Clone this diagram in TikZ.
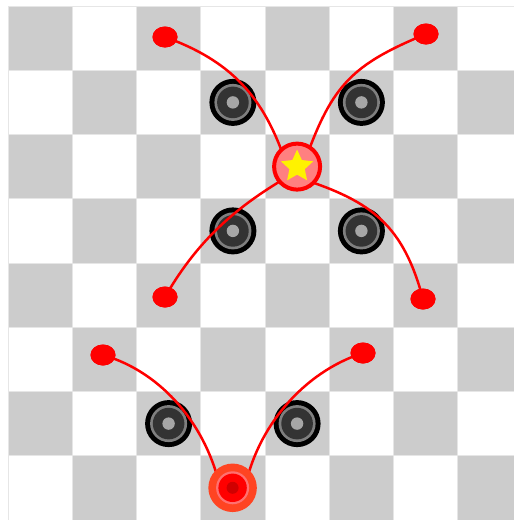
\documentclass[tikz,border=0pt]{standalone}
\usetikzlibrary{shapes.geometric,calc}
\definecolor{sqgray}{HTML}{CCCCCC}
\definecolor{gridline}{HTML}{E6E6E6}
\definecolor{ringgray}{HTML}{7F7F7F}
\definecolor{darkcore}{HTML}{333333}
\definecolor{hubgray}{HTML}{A6A6A6}
\definecolor{starfill}{HTML}{FF8080}
\definecolor{kingouter}{HTML}{FF4422}
\definecolor{kingring}{HTML}{FF7070}
\definecolor{kingcore}{HTML}{D00000}
\tikzset{
  blackpc/.style={circle, fill=black, minimum size=47pt, inner sep=0pt, path picture={
      \fill[ringgray] (path picture bounding box.center) circle[radius=18.5pt];
      \fill[darkcore] (path picture bounding box.center) circle[radius=15.8pt];
      \fill[hubgray] (path picture bounding box.center) circle[radius=6.2pt];}},
  starpc/.style={circle, draw=red, line width=4pt, fill=starfill, minimum size=46pt, inner sep=0pt},
  starmark/.style={star, star points=5, star point ratio=2.1, fill=yellow, minimum size=34pt, inner sep=0pt},
  kingpc/.style={circle, fill=kingouter, minimum size=48.5pt, inner sep=0pt, path picture={
      \fill[kingring] (path picture bounding box.center) circle[radius=16.5pt];
      \fill[red] (path picture bounding box.center) circle[radius=14.2pt];
      \fill[kingcore] (path picture bounding box.center) circle[radius=6pt];}},
  target/.style={ellipse, fill=red, minimum width=25pt, minimum height=21pt, inner sep=0pt},
  movecurve/.style={draw=red, line width=2.5pt}
}
\begin{document}
\begin{tikzpicture}[x=1pt,y=-1pt]
\useasboundingbox (0,0) rectangle (514,520);
\fill[white] (0,0) rectangle (514,520);
% board
\begin{scope}
\clip (0,0) rectangle (514,520);
\foreach \i in {0,...,7} {
  \foreach \j in {0,...,7} {
    \pgfmathtruncatemacro\sqpar{mod(\i+\j,2)}
    \ifnum\sqpar=0 \def\sqcol{sqgray}\else\def\sqcol{white}\fi
    \path[fill=\sqcol, draw=gridline, line width=1pt] ({8+64.25*\i},{6+64.25*\j}) rectangle ++(64.25,64.25);
  }
}
\end{scope}
% black pieces
\node[blackpc] (b1) at (232.9,102.4) {};
\node[blackpc] (b2) at (361.4,102.4) {};
\node[blackpc] (b3) at (232.9,230.9) {};
\node[blackpc] (b4) at (361.4,230.9) {};
\node[blackpc] (b5) at (168.6,423.6) {};
\node[blackpc] (b6) at (297.1,423.6) {};
% coordinates of moving pieces
\coordinate (S) at (297.1,166.6);
\coordinate (R) at (232.6,487.8);
% target dots
\node[target] (d1) at (165,37) {};
\node[target] (d2) at (426,34) {};
\node[target] (d3) at (165,297) {};
\node[target] (d4) at (423,299) {};
\node[target] (d5) at (103,355) {};
\node[target] (d6) at (363,353) {};
% curves
\draw[movecurve] (d1.center) .. controls (230.8,60.8) and (264,96.5) .. ($(S)+(-11,-3)$);
\draw[movecurve] (d2.center) .. controls (352.4,64.4) and (332,84.8) .. ($(S)+(8,-6)$);
\draw[movecurve] (d3.center) .. controls (197.5,240.5) and (236.1,206.2) .. ($(S)+(-4,7)$);
\draw[movecurve] ($(S)+(4,12)$) .. controls (372.2,201.6) and (403.2,225.3) .. (d4.center);
\draw[movecurve] (d5.center) .. controls (163.5,372.6) and (207.4,427.3) .. ($(R)+(-12,2)$);
\draw[movecurve] (d6.center) .. controls (303.5,372) and (256.6,427.3) .. ($(R)+(12,2)$);
% redraw dots on top of curve ends
\foreach \d in {d1,d2,d3,d4,d5,d6} { \fill[red] (\d) ellipse[x radius=12.5pt, y radius=10.5pt]; }
% moving pieces
\node[starpc] (sp) at (S) {};
\node[starmark] (sm) at (S) {};
\node[kingpc] (kp) at (R) {};
\end{tikzpicture}
\end{document}
